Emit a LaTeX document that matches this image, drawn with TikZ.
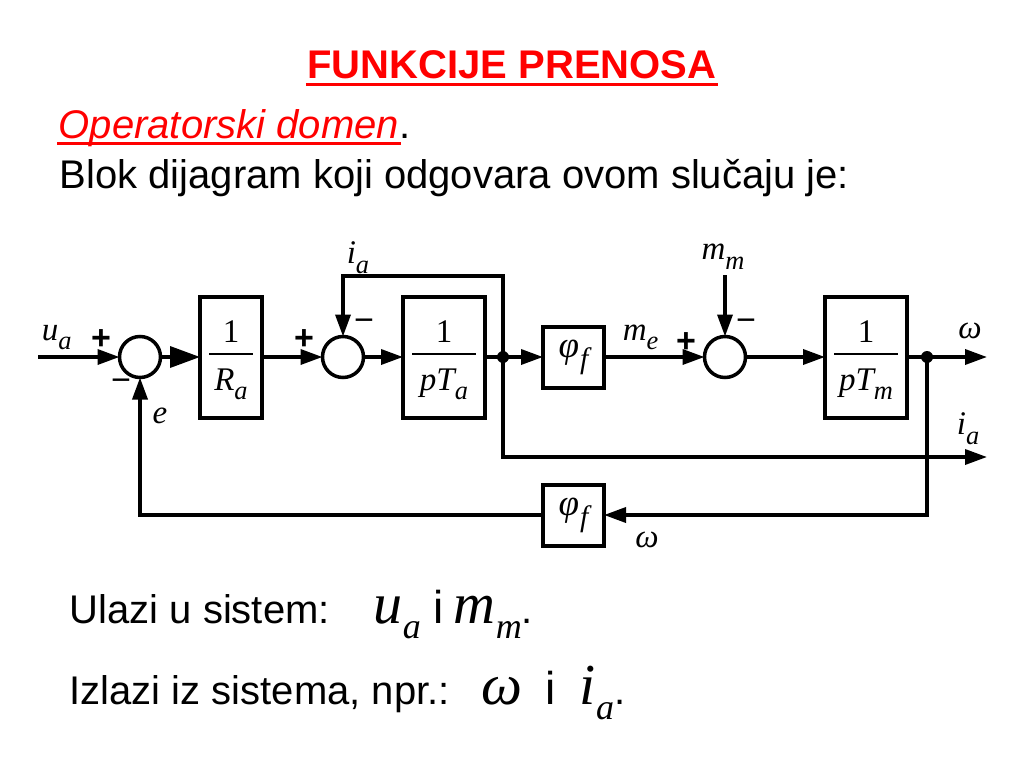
\documentclass[tikz,border=0pt]{standalone}
\usepackage{fontspec}
\setmainfont{Liberation Sans}
\newfontfamily\tms{Liberation Serif}
\usepackage{graphicx}
\usetikzlibrary{arrows.meta, positioning}

\newcommand\sbs[1]{\raisebox{-.3em}{\scalebox{.8}{#1}}}
\newcommand\bsbs[1]{\raisebox{-15pt}{\fontsize{36}{36}\selectfont #1}}

\tikzset{
  blk/.style={draw, line width=4pt, minimum height=121pt, inner sep=0pt, outer sep=0pt},
  gain/.style={blk, minimum width=61pt, minimum height=61pt, font=\tms\itshape\fontsize{37}{37}\selectfont},
  sum/.style={draw, circle, line width=3.5pt, minimum size=41pt, inner sep=0pt, outer sep=0pt},
  arr/.style={-{Triangle[length=22pt,width=15pt]}},
  bigarr/.style={-{Triangle[length=30pt,width=21pt]}},
  lbl/.style={inner sep=0pt, font=\tms\itshape\fontsize{33}{33}\selectfont},
  num/.style={inner sep=0pt, anchor=base, font=\tms\fontsize{33}{33}\selectfont},
  sgn/.style={inner sep=0pt, font=\bfseries\fontsize{34}{34}\selectfont},
  neg/.style={inner sep=0pt, font=\fontsize{34}{34}\selectfont},
  dot/.style={circle, fill, minimum size=12pt, inner sep=0pt},
  txt/.style={inner sep=0pt, anchor=base west, font=\fontsize{40}{48}\selectfont},
  mth/.style={txt, font=\tms\itshape\fontsize{58}{58}\selectfont},
}

\begin{document}
\begin{tikzpicture}[x=1pt, y=-1pt, line width=3.5pt]
	\useasboundingbox (0,0) rectangle (1024,768);
	
	% texts
	\node[txt, anchor=base, text=red, font=\bfseries\fontsize{40}{48}\selectfont] (title) at (512,78) {FUNKCIJE PRENOSA};
	\draw[red, line width=3pt] ([yshift=-6pt]title.base west) -- ([yshift=-6pt]title.base east);
	\node[txt, text=red, font=\itshape\fontsize{40}{48}\selectfont] (opd) at (57,138) {Operatorski domen};
	\draw[red, line width=3pt] ([yshift=-5pt]opd.base west) -- ([yshift=-5pt]opd.base east);
	\node[txt] (opdot) at ([xshift=-3pt]opd.base east) {.};
	\node[txt] (blok) at (58,188) {Blok dijagram koji odgovara ovom slučaju je:};
	
	% blocks
	\node[sum]                                     (sum1) at (140,357) {};
	\node[blk, minimum width=62pt, right=39.5pt of sum1] (Ra) {};
	\node[sum, right=60.5pt of Ra]                 (sum2) {};
	\node[blk, minimum width=82pt, right=39.5pt of sum2] (pTa) {};
	\node[gain, right=58pt of pTa]                 (phi1) {φ\hspace{1pt}\sbs{f}};
	\node[sum, right=100.5pt of phi1]              (sum3) {};
	\node[blk, minimum width=82pt, right=79.5pt of sum3] (pTm) {};
	\node[gain, below=97pt of phi1]                (phi2) {φ\hspace{1pt}\sbs{f}};
	
	% fractions
	\node[num] (Ra-num) at ([yshift=15pt]Ra.center) {1};
	\node[lbl, anchor=base] (Ra-den) at ([yshift=-33pt]Ra.center) {R\sbs{a}};
	\draw[line width=2pt] ([xshift=9pt,yshift=3pt]Ra.west) -- ([xshift=-9pt,yshift=3pt]Ra.east);
	\node[num] (pTa-num) at ([yshift=15pt]pTa.center) {1};
	\node[lbl, anchor=base] (pTa-den) at ([yshift=-33pt]pTa.center) {pT\sbs{a}};
	\draw[line width=2pt] ([xshift=9pt,yshift=3pt]pTa.west) -- ([xshift=-9pt,yshift=3pt]pTa.east);
	\node[num] (pTm-num) at ([yshift=15pt]pTm.center) {1};
	\node[lbl, anchor=base] (pTm-den) at ([yshift=-33pt]pTm.center) {pT\sbs{m}};
	\draw[line width=2pt] ([xshift=9pt,yshift=3pt]pTm.west) -- ([xshift=-9pt,yshift=3pt]pTm.east);
	
	% branch points and free ends
	\node[dot] (j1) at (503,357) {};
	\node[dot] (j2) at (927,357) {};
	\coordinate (uin)   at (38,357);
	\coordinate (iatop) at (503,276);
	\coordinate (iaout) at (987,457);
	\coordinate (wout)  at (987,357);
	\coordinate (mmin)  at (725,275);
	
	\draw[arr] (uin) -- (sum1);
	\draw[bigarr] (sum1) -- (Ra);
	\draw[arr] (Ra) -- (sum2);
	\draw[arr] (sum2) -- (pTa);
	\draw[arr] (pTa) -- (phi1);
	\draw[arr] (phi1) -- (sum3);
	\draw[arr] (mmin) -- (sum3);
	\draw[arr] (sum3) -- (pTm);
	\draw[arr] (pTm) -- (wout);
	\draw[arr] (j1.center) -- (iatop) -| (sum2);
	\draw[arr] (j1.center) |- (iaout);
	\draw[arr] (j2.center) |- (phi2);
	\draw[arr] (phi2) -| (sum1);
	
	% signal labels
	\node[lbl, anchor=base west] (ua) at (40,340) {u\sbs{a}};
	\node[sgn] (p1) at (101,340) {+};
	\node[neg] (m1) at (121,385) {−};
	\node[lbl] (e)  at (160,416) {e};
	\node[lbl] (ia1) at (358,258) {i\sbs{a}};
	\node[sgn] (p2) at (304,340) {+};
	\node[neg] (m2) at (364,325) {−};
	\node[lbl, anchor=base west] (me) at (621,340) {m\sbs{e}};
	\node[sgn] (p3) at (686,343) {+};
	\node[neg] (m3) at (746,325) {−};
	\node[lbl] (mm) at (723,257) {m\sbs{m}};
	\node[lbl] (w1) at (970,331) {ω};
	\node[lbl] (ia2) at (968,429) {i\sbs{a}};
	\node[lbl] (w2) at (647,540) {ω};
	
	% inputs and outputs
	\node[txt] (ulazi) at (68,623) {Ulazi u sistem:};
	\node[mth] (ulazm) at (372,623) {u\bsbs{a}\hspace{13pt}{\normalfont\fontsize{46}{48}\selectfont i}\hspace{10pt}m\bsbs{m}{\normalfont\fontsize{40}{48}\selectfont .}};
	\node[txt] (izlazi) at (68,704) {Izlazi iz sistema, npr.:};
	\node[mth] (izlm) at (480,704) {ω\hspace{23pt}{\normalfont\fontsize{46}{48}\selectfont i}\hspace{24pt}i\bsbs{a}{\normalfont\fontsize{40}{48}\selectfont .}};
\end{tikzpicture}
\end{document}
